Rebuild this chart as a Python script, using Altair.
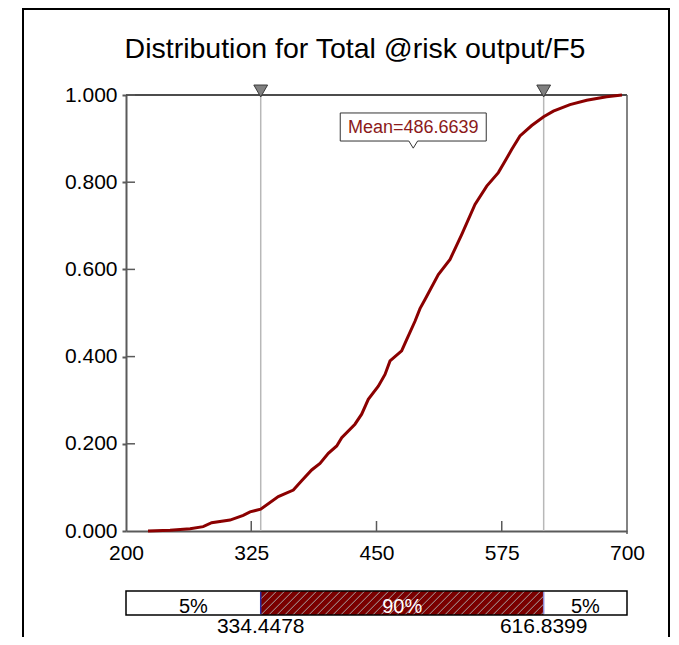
import altair as alt
import pandas as pd

# ---------------- data ----------------
cdf_x = [222, 244, 264, 277, 285.5, 303.8, 317, 323.8, 334.4, 352, 367, 375.3,
         385.3, 393.6, 401.9, 410.3, 415.3, 428.5, 435.2, 441.8, 451.8, 458.5,
         463.5, 475.1, 480.1, 488.4, 493.4, 498.4, 511.7, 523.4, 535, 548.3,
         560, 571.6, 578.2, 584.9, 593.2, 604.9, 616.8, 626.5, 643.1, 659.8,
         679.7, 695]
cdf_p = [0.0, 0.002, 0.005, 0.010, 0.019, 0.025, 0.036, 0.044, 0.050, 0.079,
         0.094, 0.115, 0.140, 0.155, 0.178, 0.195, 0.214, 0.245, 0.268, 0.302,
         0.332, 0.359, 0.390, 0.413, 0.439, 0.481, 0.510, 0.531, 0.588, 0.623,
         0.680, 0.749, 0.791, 0.822, 0.848, 0.875, 0.906, 0.930, 0.950, 0.963,
         0.978, 0.988, 0.996, 1.0]
y_ticks = [0.0, 0.2, 0.4, 0.6, 0.8, 1.0]
x_ticks = [200, 325, 450, 575, 700]
x_inner_ticks = [325, 450, 575]
x_min, x_max = 200, 700
p5 = 334.4478
p95 = 616.8399
mean_val = 486.6639
seg_labels = ["5%", "90%", "5%"]
seg_fills = ["white", "#7a0000", "white"]
seg_text_colors = ["black", "white", "black"]
title_text = "Distribution for Total @risk output/F5"

# ---------------- layout ----------------
W, H = 501, 436
PAD = {"left": 118, "top": 87, "right": 44, "bottom": 106}
FONT = "Liberation Sans"
RED = "#8B0000"
AX = "#5a5a5a"

xs = alt.Scale(domain=[x_min, x_max], nice=False, zero=False)
ys = alt.Scale(domain=[0, 1], nice=False, zero=False)

one = pd.DataFrame({"a": [0]})

curve_df = pd.DataFrame({"x": cdf_x, "p": cdf_p})
curve = alt.Chart(curve_df).mark_line(color=RED, strokeWidth=3).encode(
    x=alt.X("x:Q", scale=xs, axis=alt.Axis(
        values=x_ticks, ticks=False, labelFontSize=21, labelPadding=11,
        labelFlush=False, labelOverlap=False, labelColor="black", labelFont=FONT,
        domainColor=AX, domainWidth=2, grid=False, title=None)),
    y=alt.Y("p:Q", scale=ys, axis=alt.Axis(
        values=y_ticks, format=".3f", tickSize=4, tickColor=AX, tickWidth=2,
        labelFontSize=21, labelPadding=5, labelColor="black", labelFont=FONT,
        labelFlush=False, labelOverlap=False,
        domainColor=AX, domainWidth=2, grid=False, title=None)),
)

# top border of plot
top_line = alt.Chart(pd.DataFrame({"y": [1.0]})).mark_rule(color="#111111", strokeWidth=1.5).encode(
    y=alt.Y("y:Q", scale=ys), x=alt.value(0), x2=alt.value(W))
# right border of plot
right_line = alt.Chart(pd.DataFrame({"x": [x_max]})).mark_rule(color=AX, strokeWidth=1.5).encode(
    x=alt.X("x:Q", scale=xs), y=alt.value(0), y2=alt.value(H + 3))

# inner ticks
ytick_in = alt.Chart(pd.DataFrame({"y": y_ticks[1:]})).mark_rule(color=AX, strokeWidth=1.5).encode(
    y=alt.Y("y:Q", scale=ys), x=alt.value(0), x2=alt.value(9))
xtick_in = alt.Chart(pd.DataFrame({"x": x_inner_ticks})).mark_rule(color=AX, strokeWidth=1.5).encode(
    x=alt.X("x:Q", scale=xs), y=alt.value(H), y2=alt.value(H - 10))

# percentile lines and markers
pct_df = pd.DataFrame({"x": [p5, p95]})
pct_lines = alt.Chart(pct_df).mark_rule(color="#b8b8b8", strokeWidth=1.5).encode(
    x=alt.X("x:Q", scale=xs), y=alt.value(0), y2=alt.value(H))
pct_marks = alt.Chart(pct_df).mark_point(
    shape="triangle-down", filled=True, fill="#808080", stroke="#3a3a3a",
    strokeWidth=1, size=190, opacity=1).encode(
    x=alt.X("x:Q", scale=xs), y=alt.value(-4))

# mean annotation
mean_df = pd.DataFrame({"x": [mean_val], "t": ["Mean=%.4f" % mean_val]})
box_path = "M-1,-0.192 L1,-0.192 L1,0.192 L0.06,0.192 L0,0.29 L-0.06,0.192 L-1,0.192 Z"
mean_box = alt.Chart(mean_df).mark_point(
    shape=box_path, filled=True, fill="white", stroke="#333333", strokeWidth=1,
    size=146 * 146, opacity=1).encode(
    x=alt.X("x:Q", scale=xs), y=alt.value(32))
mean_text = alt.Chart(mean_df).mark_text(
    font=FONT, fontSize=18, color="#8B1A1A", baseline="middle",
    align="center").encode(
    x=alt.X("x:Q", scale=xs), y=alt.value(33), text="t:N")

# bottom percentile bar
BAR_T, BAR_B = 496, 520
seg_df = pd.DataFrame({
    "s": [x_min, p5, p95], "e": [p5, p95, x_max],
    "lab": seg_labels, "fill": seg_fills, "tc": seg_text_colors,
})
seg_df["mid"] = (seg_df["s"] + seg_df["e"]) / 2
segs = alt.Chart(seg_df).mark_rect().encode(
    x=alt.X("s:Q", scale=xs), x2="e:Q", y=alt.value(BAR_T), y2=alt.value(BAR_B),
    color=alt.Color("fill:N", scale=None, legend=None))

# hatch decoration over the 90% segment (pattern, in pixel steps)
px_per_unit = W / (x_max - x_min)
L = (p5 - x_min) * px_per_unit
R = (p95 - x_min) * px_per_unit
hh = BAR_B - BAR_T
rows = []
a = L - hh
while a < R:
    s0 = max(0.0, L - a)
    s1 = min(float(hh), R - a)
    if s1 > s0:
        rows.append({
            "x1": x_min + (a + s0) / px_per_unit, "x2": x_min + (a + s1) / px_per_unit,
            "y1": 1 - (BAR_B - s0) / H, "y2": 1 - (BAR_B - s1) / H})
    a += 8
hatch = alt.Chart(pd.DataFrame(rows)).mark_rule(color="#a8a8a8", strokeWidth=1).encode(
    x=alt.X("x1:Q", scale=xs), x2="x2:Q", y=alt.Y("y1:Q", scale=ys), y2="y2:Q")

bar_border = alt.Chart(one).mark_rect(fill=None, stroke="black", strokeWidth=1.5).encode(
    x=alt.datum(x_min, scale=xs), x2=alt.datum(x_max), y=alt.value(BAR_T), y2=alt.value(BAR_B))
div_df = pd.DataFrame({"x": [p5, p95], "c": ["#2a2aa0", "#8c8cd8"]})
dividers = alt.Chart(div_df).mark_rule(strokeWidth=1.5).encode(
    x=alt.X("x:Q", scale=xs), y=alt.value(BAR_T + 1), y2=alt.value(BAR_B - 1),
    color=alt.Color("c:N", scale=None, legend=None))
seg_text = alt.Chart(seg_df).mark_text(font=FONT, fontSize=20, baseline="alphabetic").encode(
    x=alt.X("mid:Q", scale=xs), y=alt.value(BAR_B - 2), text="lab:N",
    color=alt.Color("tc:N", scale=None, legend=None))
val_df = pd.DataFrame({"x": [p5, p95], "t": ["%.4f" % p5, "%.4f" % p95]})
val_text = alt.Chart(val_df).mark_text(font=FONT, fontSize=21, baseline="alphabetic", color="black").encode(
    x=alt.X("x:Q", scale=xs), y=alt.value(538), text="t:N")

# title
title = alt.Chart(one).mark_text(font=FONT, fontSize=28.5, color="black", align="center",
                                 baseline="alphabetic", text=title_text).encode(
    x=alt.value(229), y=alt.value(-37))

# outer frame
frame_l = alt.Chart(one).mark_rule(color="black", strokeWidth=2).encode(
    x=alt.value(-103), y=alt.value(-86), y2=alt.value(H + PAD["bottom"]))
frame_t = alt.Chart(one).mark_rule(color="black", strokeWidth=2).encode(
    x=alt.value(-104), x2=alt.value(W + PAD["right"] - 1), y=alt.value(-86))
frame_r = alt.Chart(one).mark_rule(color="black", strokeWidth=2).encode(
    x=alt.value(W + PAD["right"] - 2), y=alt.value(-86), y2=alt.value(H + PAD["bottom"]))

chart = alt.layer(
    segs, hatch, bar_border, dividers, seg_text, val_text,
    pct_lines, top_line, right_line, ytick_in, xtick_in, curve,
    pct_marks, mean_box, mean_text, title, frame_l, frame_t, frame_r,
).properties(
    width=W, height=H,
    autosize=alt.AutoSizeParams(type="none"),
    padding=PAD,
).configure_view(stroke=None)

chart.save("out.html", embed_options={"renderer": "svg", "actions": False})
